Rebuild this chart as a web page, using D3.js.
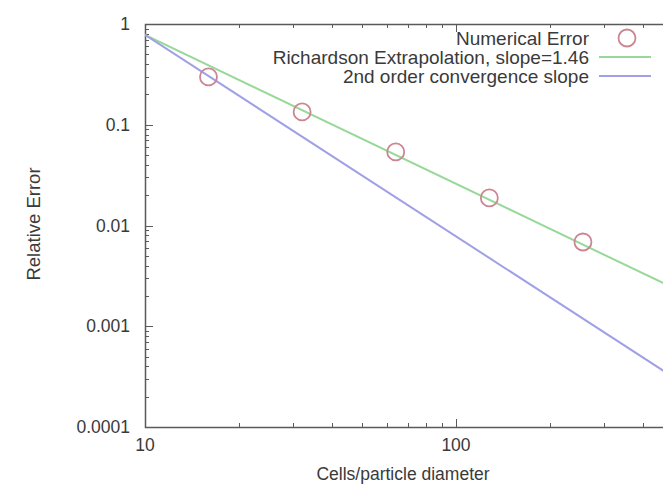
<!DOCTYPE html>
<html>
<head>
<meta charset="utf-8">
<script src="https://cdn.jsdelivr.net/npm/d3@7"></script>
<style>
  html, body { margin: 0; padding: 0; background: #fff; }
  svg { display: block; }
  text { font-family: "Liberation Sans", Arial, Helvetica, sans-serif; fill: #3a3a3a; }
</style>
</head>
<body>
<svg id="chart" width="663" height="486"></svg>
<script>
// Measured relative error against grid resolution
const cellsPerDiameter = [16, 32, 64, 128, 256];
const relativeError = [0.298, 0.134, 0.0537, 0.0188, 0.00686];

// Fitted Richardson extrapolation line (slope 1.46), end points
const richardsonX = [10, 500];
const richardsonY = [0.78, 0.0024];

// Reference 2nd order convergence line, end points
const secondOrderX = [10, 500];
const secondOrderY = [0.78, 0.000312];

// Axis tick labels
const xTickValues = [10, 100];
const xTickLabels = ["10", "100"];
const yTickValues = [1, 0.1, 0.01, 0.001, 0.0001];
const yTickLabels = ["1", "0.1", "0.01", "0.001", "0.0001"];

// Legend entries
const legendLabels = ["Numerical Error", "Richardson Extrapolation, slope=1.46", "2nd order convergence slope"];

const colors = { points: "#cc8592", richardson: "#98d898", second: "#a0a0e6", axis: "#5a5a5a" };

const svg = d3.select("#chart");
const plotLeft = 145, plotRight = 664, plotTop = 24, plotBottom = 427;

const x = d3.scaleLog().domain([10, 10 * Math.pow(10, (plotRight - plotLeft) / 311)]).range([plotLeft, plotRight]);
const y = d3.scaleLog().domain([0.0001, 1]).range([plotBottom, plotTop]);

svg.append("defs").append("clipPath").attr("id", "plotClip")
  .append("rect").attr("x", plotLeft).attr("y", plotTop)
  .attr("width", plotRight - plotLeft).attr("height", plotBottom - plotTop);

// Major and minor tick positions for log axes
function logTicks(lo, hi) {
  const out = [];
  for (let e = Math.floor(Math.log10(lo)); e <= Math.ceil(Math.log10(hi)); e++) {
    for (let m = 1; m <= 9; m++) {
      const v = m * Math.pow(10, e);
      if (v >= lo * 0.999 && v <= hi * 1.001) out.push({ v, major: m === 1 });
    }
  }
  return out;
}

const ticksG = svg.append("g").attr("stroke", colors.axis).attr("stroke-width", 1);
const xd = x.domain();
logTicks(xd[0], xd[1]).forEach(t => {
  const px = Math.round(x(t.v)) + 0.5;
  const len = t.major ? 8 : 4;
  ticksG.append("line").attr("x1", px).attr("x2", px).attr("y1", plotBottom).attr("y2", plotBottom - len);
  ticksG.append("line").attr("x1", px).attr("x2", px).attr("y1", plotTop).attr("y2", plotTop + len);
});
logTicks(0.0001, 1).forEach(t => {
  const py = Math.round(y(t.v)) + 0.5;
  const len = t.major ? 8 : 4;
  ticksG.append("line").attr("x1", plotLeft).attr("x2", plotLeft + len).attr("y1", py).attr("y2", py);
});

// Frame
svg.append("path")
  .attr("d", `M${plotRight},${plotTop + 0.5}H${plotLeft + 0.5}V${plotBottom + 0.5}H${plotRight}`)
  .attr("fill", "none").attr("stroke", colors.axis).attr("stroke-width", 1.5);

// Tick labels
svg.append("g").selectAll("text").data(yTickValues).join("text")
  .attr("x", plotLeft - 15).attr("y", d => y(d)).attr("dy", "0.35em")
  .attr("text-anchor", "end").attr("font-size", 17.5)
  .text((d, i) => yTickLabels[i]);

svg.append("g").selectAll("text").data(xTickValues).join("text")
  .attr("x", d => x(d)).attr("y", plotBottom + 24)
  .attr("text-anchor", "middle").attr("font-size", 17.5)
  .text((d, i) => xTickLabels[i]);

// Axis titles
svg.append("text").attr("x", 403).attr("y", 480).attr("text-anchor", "middle")
  .attr("font-size", 17.5).text("Cells/particle diameter");
svg.append("text").attr("transform", "translate(40,224) rotate(-90)").attr("text-anchor", "middle")
  .attr("font-size", 18.5).text("Relative Error");

// Lines
const plot = svg.append("g").attr("clip-path", "url(#plotClip)");
const line = d3.line().x(d => x(d[0])).y(d => y(d[1]));
plot.append("path").datum(d3.zip(richardsonX, richardsonY)).attr("d", line)
  .attr("fill", "none").attr("stroke", colors.richardson).attr("stroke-width", 2);
plot.append("path").datum(d3.zip(secondOrderX, secondOrderY)).attr("d", line)
  .attr("fill", "none").attr("stroke", colors.second).attr("stroke-width", 2);

// Points
plot.selectAll("circle").data(d3.zip(cellsPerDiameter, relativeError)).join("circle")
  .attr("cx", d => x(d[0])).attr("cy", d => y(d[1])).attr("r", 8.5)
  .attr("fill", "none").attr("stroke", colors.points).attr("stroke-width", 1.8);

// Legend
const legend = svg.append("g");
const rowsY = [38, 57, 76];
legend.selectAll("text").data(legendLabels).join("text")
  .attr("x", 589).attr("y", (d, i) => rowsY[i]).attr("dy", "0.35em")
  .attr("text-anchor", "end").attr("font-size", 19).text(d => d);
legend.append("circle").attr("cx", 627).attr("cy", rowsY[0]).attr("r", 8.5)
  .attr("fill", "none").attr("stroke", colors.points).attr("stroke-width", 1.8);
legend.append("line").attr("x1", 599).attr("x2", 651).attr("y1", rowsY[1]).attr("y2", rowsY[1])
  .attr("stroke", colors.richardson).attr("stroke-width", 2);
legend.append("line").attr("x1", 599).attr("x2", 651).attr("y1", rowsY[2]).attr("y2", rowsY[2])
  .attr("stroke", colors.second).attr("stroke-width", 2);
</script>
</body>
</html>
